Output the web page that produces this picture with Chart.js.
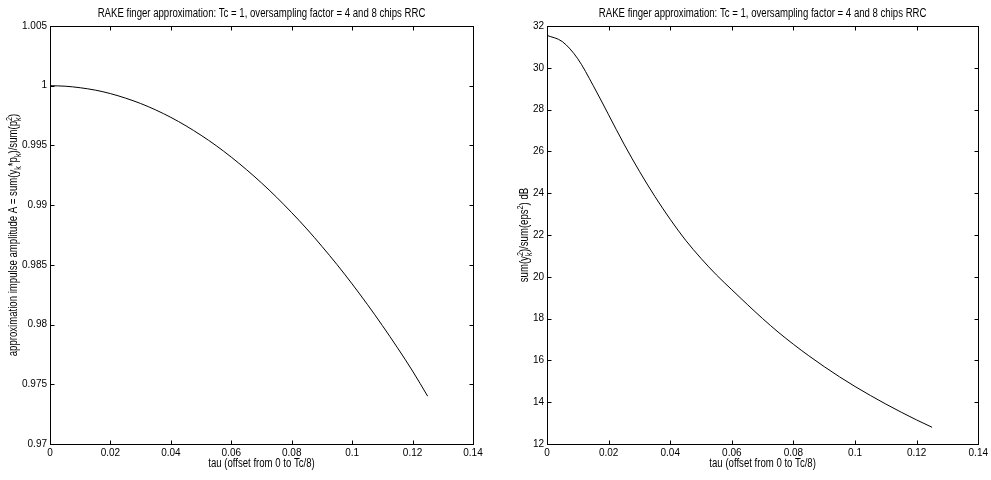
<!DOCTYPE html>
<html><head><meta charset="utf-8">
<script src="https://cdn.jsdelivr.net/npm/chart.js@4/dist/chart.umd.min.js"></script>
<style>
html,body{margin:0;padding:0;background:#fff;}
#wrap{position:relative;width:991px;height:480px;overflow:hidden;}
.c{position:absolute;top:0;height:480px;}
</style></head><body>
<div id="wrap">
<div class="c" style="left:0;width:495px"><canvas id="c1"></canvas></div>
<div class="c" style="left:495px;width:496px"><canvas id="c2"></canvas></div>
</div>
<script>
const titleText = 'RAKE finger approximation: Tc = 1, oversampling factor = 4 and 8 chips RRC';
const xLabel = 'tau (offset from 0 to Tc/8)';
const tau = [0,0.005,0.01,0.015,0.02,0.025,0.03,0.035,0.04,0.045,0.05,0.055,0.06,0.065,0.07,0.075,0.08,0.085,0.09,0.095,0.1,0.105,0.11,0.115,0.12,0.125];
const amplitude = [1.0000,0.99996,0.99983,0.99963,0.99934,0.99896,0.99851,0.99797,0.99735,0.99664,0.99585,0.99498,0.99402,0.99298,0.99186,0.99066,0.98937,0.98801,0.98655,0.98502,0.98340,0.98170,0.97992,0.97806,0.97611,0.97400];
const snrDb = [31.55,31.25,30.43,29.15,27.75,26.35,25.05,23.85,22.75,21.75,20.88,20.09,19.38,18.68,18.0,17.36,16.77,16.22,15.70,15.21,14.75,14.32,13.91,13.52,13.15,12.80];
const xTicks = [0,0.02,0.04,0.06,0.08,0.1,0.12,0.14];
const ampTicks = [0.97,0.975,0.98,0.985,0.99,0.995,1,1.005];
const snrTicks = [12,14,16,18,20,22,24,26,28,30,32];

const FAM = "'Liberation Sans',Arial,Helvetica,sans-serif";
const font = s => s + 'px ' + FAM;
const SQ = 0.8; // horizontal squeeze to mimic the narrow label font
const LBL = 12;

function drawNarrow(ctx, text, x, y, size) {
  ctx.save();
  ctx.translate(x, y); ctx.scale(SQ, 1);
  ctx.font = font(size); ctx.textAlign = 'center'; ctx.textBaseline = 'middle';
  ctx.fillText(text, 0, 0);
  ctx.restore();
}

// Rich text: parts of {k:'n'|'sub'|'sup'|'stack', t, sub, sup}
function drawRich(ctx, parts, cx, cy, rot, size){
  const small = Math.round(size*0.72);
  ctx.save();
  ctx.translate(cx, cy); ctx.rotate(rot); ctx.scale(SQ, 1);
  ctx.fillStyle = '#000'; ctx.textAlign = 'left'; ctx.textBaseline = 'alphabetic';
  const ws = parts.map(p => {
    if (p.k === 'n') { ctx.font = font(size); return ctx.measureText(p.t).width; }
    ctx.font = font(small);
    if (p.k === 'stack') return Math.max(ctx.measureText(p.sub).width, ctx.measureText(p.sup).width);
    return ctx.measureText(p.t).width;
  });
  let x = -ws.reduce((a,b)=>a+b,0)/2;
  const base = size*0.36;
  parts.forEach((p,i) => {
    if (p.k === 'n') { ctx.font = font(size); ctx.fillText(p.t, x, base); }
    else {
      ctx.font = font(small);
      if (p.k === 'sub' || p.k === 'stack') ctx.fillText(p.k==='sub'?p.t:p.sub, x, base + size*0.3);
      if (p.k === 'sup' || p.k === 'stack') ctx.fillText(p.k==='sup'?p.t:p.sup, x, base - size*0.42);
    }
    x += ws[i];
  });
  ctx.restore();
}

const framePlugin = {
  id: 'frame',
  afterDraw(chart, args, opts) {
    const {ctx, chartArea: a, scales: {x, y}} = chart;
    ctx.save();
    ctx.strokeStyle = '#000'; ctx.lineWidth = 1;
    const L = Math.round(a.left)+0.5, R = Math.round(a.right)+0.5, T = Math.round(a.top)+0.5, B = Math.round(a.bottom)+0.5;
    ctx.strokeRect(L, T, R-L, B-T);
    const tl = 4;
    ctx.beginPath();
    x.ticks.forEach(t => {
      const px = Math.round(x.getPixelForValue(t.value))+0.5;
      ctx.moveTo(px, B); ctx.lineTo(px, B-tl);
      ctx.moveTo(px, T); ctx.lineTo(px, T+tl);
    });
    y.ticks.forEach(t => {
      const py = Math.round(y.getPixelForValue(t.value))+0.5;
      ctx.moveTo(L, py); ctx.lineTo(L+tl, py);
      ctx.moveTo(R, py); ctx.lineTo(R-tl, py);
    });
    ctx.stroke();
    ctx.fillStyle = '#000';
    const cx = (a.left + a.right)/2;
    drawNarrow(ctx, titleText, cx, 14, LBL);
    drawNarrow(ctx, xLabel, cx, 464, LBL);
    drawRich(ctx, opts.ylabel, opts.ylx, (a.top+a.bottom)/2, -Math.PI/2, LBL);
    ctx.restore();
  }
};

const fmt = v => String(parseFloat(Number(v).toFixed(4)));

function makeChart(id, yvals, yTicks, ymin, ymax, yWidth, padRight, ylabel, ylx) {
  return new Chart(document.getElementById(id), {
    type: 'line',
    data: { datasets: [{
      data: tau.map((t,i) => ({x: t, y: yvals[i]})),
      borderColor: '#000', borderWidth: 1, pointRadius: 0, fill: false,
      cubicInterpolationMode: 'monotone'
    }]},
    options: {
      responsive: true, maintainAspectRatio: false, animation: false,
      layout: { padding: { left: 0, right: padRight, top: 26, bottom: 0 } },
      plugins: { legend: {display: false}, tooltip: {enabled: false}, title: {display: false},
                 frame: { ylabel: ylabel, ylx: ylx } },
      scales: {
        x: {
          type: 'linear', min: 0, max: 0.14,
          afterBuildTicks: s => { s.ticks = xTicks.map(v => ({value: v})); },
          afterFit: s => { s.height = 36; },
          grid: { display: false, drawTicks: false }, border: { display: false },
          ticks: { color: '#000', font: {family: FAM, size: 10}, padding: 3, maxRotation: 0, autoSkip: false, callback: v => fmt(v) }
        },
        y: {
          type: 'linear', min: ymin, max: ymax,
          afterBuildTicks: s => { s.ticks = yTicks.map(v => ({value: v})); },
          afterFit: s => { s.width = yWidth; },
          grid: { display: false, drawTicks: false }, border: { display: false },
          ticks: { color: '#000', font: {family: FAM, size: 10}, padding: 3, autoSkip: false, callback: v => fmt(v) }
        }
      }
    },
    plugins: [framePlugin]
  });
}

const ylabelLeft = [
  {k:'n', t:'approximation impulse amplitude A = sum(y'}, {k:'sub', t:'k'},
  {k:'n', t:'*p'}, {k:'sub', t:'k'}, {k:'n', t:')/sum(p'}, {k:'stack', sub:'k', sup:'2'}, {k:'n', t:')'}
];
const ylabelRight = [
  {k:'n', t:'sum(y'}, {k:'stack', sub:'k', sup:'2'}, {k:'n', t:')/sum(eps'}, {k:'sup', t:'2'}, {k:'n', t:') dB'}
];

makeChart('c1', amplitude, ampTicks, 0.97, 1.005, 50, 22, ylabelLeft, 13);
makeChart('c2', snrDb, snrTicks, 12, 32, 52, 9, ylabelRight, 29);
</script>
</body></html>
